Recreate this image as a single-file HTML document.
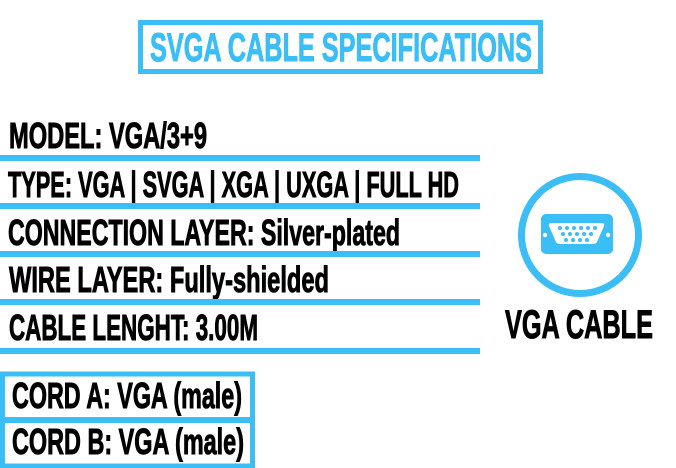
<!DOCTYPE html>
<html><head><meta charset="utf-8"><style>
html,body{margin:0;padding:0;background:#fff;}
svg{display:block}
text{font-family:"Liberation Sans Narrow","Liberation Sans",sans-serif;font-weight:bold;}
</style></head><body>
<svg width="676" height="468" viewBox="0 0 676 468" xmlns="http://www.w3.org/2000/svg">
<rect x="0" y="0" width="676" height="468" fill="#fff"/>
<!-- title -->
<rect x="140.5" y="22.5" width="400" height="49" fill="none" stroke="#3bbdf6" stroke-width="5"/>
<text x="150" y="61" font-size="40" fill="#3bbdf6" stroke="#3bbdf6" stroke-width="1" textLength="382" lengthAdjust="spacingAndGlyphs">SVGA CABLE SPECIFICATIONS</text>
<!-- rows -->
<g fill="#000" stroke="#000" stroke-width="1" font-size="36">
<text x="9" y="148" textLength="198" lengthAdjust="spacingAndGlyphs">MODEL: VGA/3+9</text>
<text x="8" y="197" textLength="451" lengthAdjust="spacingAndGlyphs">TYPE: VGA | SVGA | XGA | UXGA | FULL HD</text>
<text x="8" y="245" textLength="392" lengthAdjust="spacingAndGlyphs">CONNECTION LAYER: Silver-plated</text>
<text x="9" y="292" textLength="320" lengthAdjust="spacingAndGlyphs">WIRE LAYER: Fully-shielded</text>
<text x="9" y="340" textLength="249" lengthAdjust="spacingAndGlyphs">CABLE LENGHT: 3.00M</text>
</g>
<g fill="#3bbdf6">
<rect x="0" y="155" width="480" height="6"/>
<rect x="0" y="203" width="480" height="6"/>
<rect x="0" y="251" width="480" height="6"/>
<rect x="0" y="299" width="480" height="6"/>
<rect x="0" y="348" width="480" height="6"/>
</g>
<!-- cord box -->
<rect x="2.5" y="374" width="250" height="92" fill="none" stroke="#3bbdf6" stroke-width="5"/>
<rect x="0" y="417" width="255" height="6" fill="#3bbdf6"/>
<g fill="#000" stroke="#000" stroke-width="1" font-size="36">
<text x="12" y="408" textLength="230" lengthAdjust="spacingAndGlyphs">CORD A: VGA (male)</text>
<text x="12" y="454" textLength="232" lengthAdjust="spacingAndGlyphs">CORD B: VGA (male)</text>
</g>
<!-- icon -->
<circle cx="580" cy="235" r="58.5" fill="none" stroke="#3bbdf6" stroke-width="7"/>
<rect x="541" y="214" width="72" height="40" rx="5" fill="#3bbdf6"/>
<path d="M551 223 H602 Q605 223 604 226 L597 242 Q596 244 593 244 H560 Q557 244 556 242 L549 226 Q548 223 551 223 Z" fill="#fff"/>
<g fill="#3bbdf6">
<circle cx="560" cy="228" r="2"/><circle cx="567" cy="228" r="2"/><circle cx="574" cy="228" r="2"/><circle cx="581" cy="228" r="2"/><circle cx="588" cy="228" r="2"/><circle cx="595" cy="228" r="2"/>
<circle cx="563" cy="234" r="2"/><circle cx="570" cy="234" r="2"/><circle cx="577" cy="234" r="2"/><circle cx="584" cy="234" r="2"/><circle cx="591" cy="234" r="2"/>
<circle cx="566" cy="240" r="2"/><circle cx="573" cy="240" r="2"/><circle cx="580" cy="240" r="2"/><circle cx="587" cy="240" r="2"/>
</g>
<circle cx="545" cy="235" r="2.2" fill="#fff"/>
<circle cx="608" cy="235" r="2.2" fill="#fff"/>
<text x="505" y="338" font-size="40" fill="#000" stroke="#000" stroke-width="1" textLength="148" lengthAdjust="spacingAndGlyphs">VGA CABLE</text>
</svg>
</body></html>
